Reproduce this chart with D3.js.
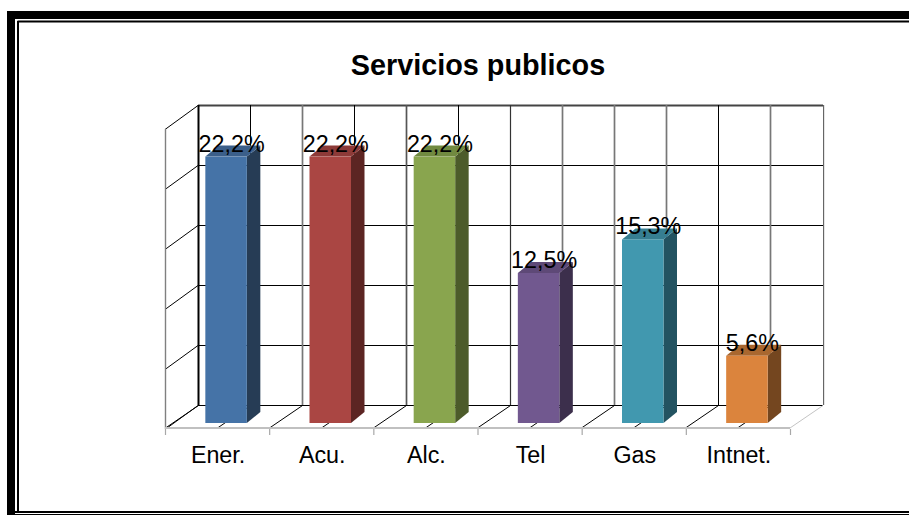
<!DOCTYPE html>
<html><head><meta charset="utf-8">
<script src="https://cdn.jsdelivr.net/npm/d3@7"></script>
<style>html,body{margin:0;padding:0;background:#fff}svg{display:block}text{font-family:"Liberation Sans",Arial,sans-serif;fill:#000}</style>
</head><body><svg id="c" width="909" height="515"></svg>
<script>
const title = "Servicios publicos";
const categories = ["Ener.","Acu.","Alc.","Tel","Gas","Intnet."];
const values = [22.2,22.2,22.2,12.5,15.3,5.6];
const valueLabels = ["22,2%","22,2%","22,2%","12,5%","15,3%","5,6%"];
const frontColors = ["#4573a7","#aa4643","#89a54e","#71588f","#4198af","#db843d"];
const topColors = ["#3b5f8a","#8d3a38","#718a40","#5e4977","#367e91","#a9672f"];
const sideColors = ["#263c55","#5c2523","#4c5b2a","#3c2f4c","#235361","#74461f"];
const gridTones = ["#000","#000","#777","#000","#555","#000","#333","#777","#777","#777","#000","#777","#000"];

const svg = d3.select("#c");
const depthX = 33, depthY = 24;
const x0 = 165, x1 = 790, floorY = 429;
const x = d3.scaleBand().domain(categories).range([x0,x1]);
const xBack = d3.scaleLinear().domain([0,12]).range([x0+depthX,x1+depthX-.5]);
const yBack = d3.scaleLinear().domain([0,25]).range([floorY-depthY,floorY-depthY-300]);
const barBase = 423, barW = 41.5, barDx = 13.5, barDy = 11;
const y = d3.scaleLinear().domain([0,25]).range([barBase,barBase-300]);

// frame
const line=(a,b,c,d,col,w)=>svg.append("line").attr("x1",a).attr("y1",b).attr("x2",c).attr("y2",d).attr("stroke",col).attr("stroke-width",w);
svg.append("rect").attr("x",7).attr("y",11).attr("width",902).attr("height",8).attr("fill","#000");
svg.append("rect").attr("x",7).attr("y",11).attr("width",8).attr("height",504).attr("fill","#000");
line(17.5,21.5,909,21.5,"#000",2);
line(18,21,18,512,"#000",2);
line(15,512,909,512,"#000",2);
line(15,514.5,909,514.5,"#000",1);

// back wall grid
yBack.ticks(5).forEach(t=>{
  const yy=Math.round(yBack(t))+.5;
  line(x0+depthX,yy,x1+depthX,yy,t===25?"#444":"#000",t===25?2:1);
  line(x0,yy+depthY,x0+depthX,yy,"#000",1);
});
d3.range(0,13).forEach(i=>{
  const xx=Math.round(xBack(i))+.5;
  const tone=gridTones[i];
  const w=i===0?2:(tone==="#000"?1:(tone==="#333"?1.2:1.7));
  line(xx,yBack(25),xx,yBack(0),tone,w);
  if(i<12) line(xx-depthX,floorY-1,xx,yBack(0)+.5,"#000",1);
});
line(x1+depthX+1,yBack(25),x1+depthX+1,yBack(0),"#ccc",1);
line(x1,floorY-1,x1+depthX,yBack(0)+.5,"#c4c4c4",1);
line(x0+.5,yBack(25)+depthY,x0+.5,floorY,"#808080",1.4);
line(x0,floorY-1,x1,floorY-1,"#c0c0c0",2);
x.domain().concat(["end"]).forEach((c,i)=>{
  const xx=x0+i*x.step()+.5;
  line(xx,floorY,xx,floorY+6,"#a8a8a8",1.2);
});

// bars
const g=svg.selectAll("g.bar").data(categories).join("g").attr("class","bar");
const left=(d)=>x(d)+x.bandwidth()/2+9-barW/2;
g.append("path").attr("fill",(d,i)=>sideColors[i]).attr("d",(d,i)=>{
  const l=left(d)+barW,t=y(values[i]);
  return `M${l},${t}L${l+barDx},${t-barDy}L${l+barDx},${barBase-barDy}L${l},${barBase}Z`;});
g.append("path").attr("fill",(d,i)=>topColors[i]).attr("d",(d,i)=>{
  const l=left(d),t=y(values[i]);
  return `M${l},${t}L${l+barDx},${t-barDy}L${l+barW+barDx},${t-barDy}L${l+barW},${t}Z`;});
g.append("rect").attr("fill",(d,i)=>frontColors[i]).attr("x",d=>left(d)).attr("width",barW)
  .attr("y",(d,i)=>y(values[i])).attr("height",(d,i)=>barBase-y(values[i]));

// labels
svg.selectAll("text.val").data(categories).join("text").attr("class","val")
  .attr("x",d=>left(d)+barW/2+5.5).attr("y",(d,i)=>y(values[i])-5)
  .attr("text-anchor","middle").attr("font-size",23.3).text((d,i)=>valueLabels[i]);
svg.selectAll("text.cat").data(categories).join("text").attr("class","cat")
  .attr("x",d=>x(d)+x.bandwidth()/2+1).attr("y",463)
  .attr("text-anchor","middle").attr("font-size",23.3).text(d=>d);
svg.append("text").attr("x",478).attr("y",75).attr("text-anchor","middle")
  .attr("font-size",28.8).attr("font-weight","bold").text(title);
</script></body></html>
